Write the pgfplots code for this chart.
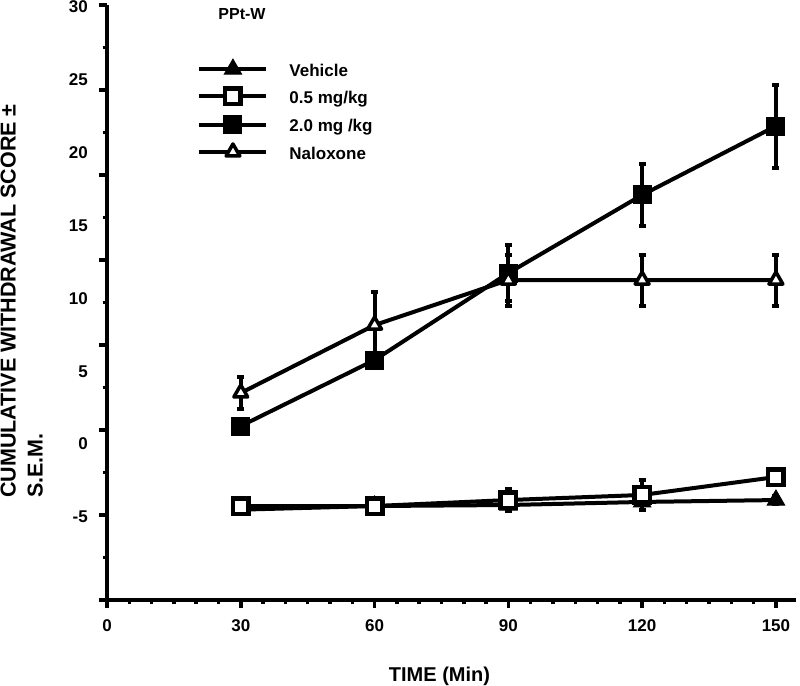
\documentclass[border=0pt]{standalone}
\usepackage{fontspec}
\setmainfont{Liberation Sans}
\usepackage{pgfplots}
\pgfplotsset{compat=1.18}
\begin{document}
\begin{tikzpicture}
\useasboundingbox (0,0) rectangle (800bp,686bp);
\pgfplotsset{
  common/.style={width=689bp,height=595bp,scale only axis,
    at={(107bp,86bp)},anchor=south west,
    xmin=0,xmax=154.5,ymin=-10.70,ymax=30.14,clip=false},
  eb/.style={error bars/.cd,y dir=both,y explicit,
    error bar style={line width=4bp,solid},
    error mark options={rotate=90,mark size=3.5bp,line width=4bp}},
}
\begin{axis}[common,
  axis lines*=left,
  axis line style={line width=4bp,-},
  xtick={0,30,60,90,120,150}, minor x tick num=5,
  ytick={30.14,24.31,18.47,12.64,6.80,0.97,-4.86,-10.70},
  minor ytick={27.225,21.39,15.555,9.72,3.885,-1.945,-7.78},
  xticklabels={}, yticklabels={},
  ticklabel style={opacity=0},
  tick align=outside, major tick length=8bp, minor tick length=4.5bp,
  tick style={line width=3.5bp,black},
  legend cell align=left,
  legend style={at={(axis description cs:0.131,0.9092)},anchor=north west,
    draw=none,fill=none,inner sep=0pt,row sep=10.4bp,column sep=0pt,
    nodes={inner sep=0pt,font=\fontsize{17bp}{20bp}\selectfont\bfseries}},
  legend image code/.code={%
    \draw[mark repeat=2,mark phase=2,#1] plot coordinates {(0bp,2bp) (33.5bp,2bp) (67bp,2bp)};
    \path (88bp,2bp);},
]
% Vehicle
\addplot[black,line width=4bp,mark=triangle*,mark size=10bp,
  mark options={solid,fill=black,line width=1bp},eb]
  coordinates {(30,-4.5) +- (0,0.3) (60,-4.25) +- (0,0.2) (90,-4.18) +- (0,0.3)
               (120,-3.97) +- (0,0.55) (150,-3.84) +- (0,0.3)};
% 0.5 mg/kg
\addplot[black,line width=4bp,mark=square*,mark size=7.75bp,
  mark options={solid,fill=white,line width=4.5bp},eb]
  coordinates {(30,-4.25) +- (0,0.3) (60,-4.25) +- (0,0.2) (90,-3.84) +- (0,0.75)
               (120,-3.49) +- (0,1.0) (150,-2.26) +- (0,0.3)};
% 2.0 mg/kg
\addplot[black,line width=4bp,mark=square*,mark size=9bp,
  mark options={solid,fill=black,line width=1bp},eb]
  coordinates {(30,1.24) +- (0,0.4) (60,5.77) +- (0,0.5) (90,11.74) +- (0,1.9)
               (120,17.1) +- (0,2.1) (150,21.83) +- (0,2.85)};
% Naloxone
\addplot[black,line width=4bp,mark=triangle*,mark size=8bp,
  mark options={solid,fill=white,line width=3.5bp,line join=round},eb]
  coordinates {(30,3.51) +- (0,1.1) (60,8.17) +- (0,2.27) (90,11.26) +- (0,1.75)
               (120,11.26) +- (0,1.75) (150,11.26) +- (0,1.75)};
\legend{Vehicle,0.5 mg/kg,2.0 mg /kg,Naloxone}
\end{axis}
\begin{axis}[common,
  axis lines*=left,
  axis line style={draw=none},
  tick style={draw=none},
  tick align=inside,
  xtick={0,30,60,90,120,150},
  xticklabels={0,30,60,90,120,150},
  ytick={-5,0,5,10,15,20,25,30},
  yticklabels={-5,0,5,10,15,20,25,30},
  ticklabel style={font=\fontsize{17bp}{20bp}\selectfont\bfseries,inner sep=0pt},
  xticklabel style={anchor=north,yshift=-19bp},
  yticklabel style={anchor=east,xshift=-19bp},
  /pgf/number format/assume math mode=true,
]
\path (axis description cs:0,0) ++(332.5bp,-81bp)
  node[anchor=base,inner sep=0pt,font=\fontsize{20bp}{24bp}\selectfont\bfseries] {TIME (Min)};
\path (axis description cs:0,0) ++(-64bp,102bp)
  node[rotate=90,anchor=south west,align=left,inner sep=0pt,
       font=\fontsize{21.5bp}{27bp}\selectfont\bfseries]
  {CUMULATIVE WITHDRAWAL SCORE \char"00B1\\S.E.M.};
\path (axis description cs:0,0) ++(135bp,580bp)
  node[anchor=base,inner sep=0pt,font=\fontsize{16bp}{19bp}\selectfont\bfseries] {PPt-W};
\end{axis}
\end{tikzpicture}
\end{document}
